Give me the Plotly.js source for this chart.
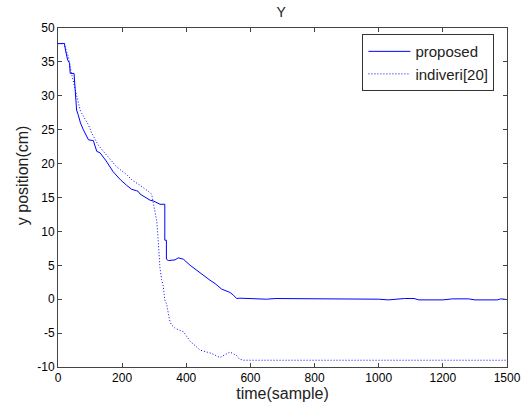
<!DOCTYPE html>
<html>
<head>
<meta charset="utf-8">
<script src="https://cdn.plot.ly/plotly-3.0.1.min.js"></script>
<style>html,body{margin:0;padding:0;background:#fff;}#chart{width:528px;height:409px;}</style>
</head>
<body>
<div id="chart"></div>
<script>
// proposed (solid)
const proposedX = [0, 20, 24, 27, 30, 36, 38, 50, 52, 56, 58, 63, 70, 79, 88, 95, 110, 115, 121, 131, 150, 172, 195, 214, 230, 245, 250, 256, 270, 287, 297, 313, 318, 333, 333, 338, 338, 344, 349, 365, 375, 391, 412, 427, 443, 474, 490, 510, 536, 547, 557, 567, 590, 620, 650, 680, 700, 720, 740, 760, 780, 800, 820, 840, 860, 880, 900, 920, 940, 960, 980, 1000, 1030, 1050, 1080, 1110, 1125, 1150, 1200, 1230, 1280, 1300, 1370, 1380, 1400];
const proposedY = [37.7, 37.7, 36.6, 35.8, 35.3, 34.8, 33.3, 33.3, 32.2, 30.1, 27.9, 27.2, 26.0, 25.0, 24.2, 23.5, 23.4, 22.6, 21.8, 21.6, 20.4, 18.8, 17.6, 16.8, 16.2, 16.0, 15.9, 15.5, 15.1, 14.6, 14.5, 14.1, 14.0, 14.0, 8.7, 8.7, 5.9, 5.7, 5.7, 5.8, 6.1, 5.9, 5.0, 4.4, 3.9, 2.8, 2.3, 1.5, 1.0, 0.6, 0.1, 0.15, 0.1, 0.1, 0.0, 0.1, 0.1, 0.0, 0.1, 0.05, 0.1, 0.0, 0.1, 0.0, 0.1, 0.0, 0.1, 0.0, 0.1, 0.1, 0.0, 0.0, -0.1, 0.0, 0.1, 0.1, -0.1, -0.1, -0.1, 0.05, 0.05, -0.1, -0.1, 0.05, -0.05];

// indiveri[20] (dotted)
const indiveriX = [0, 20, 22, 32, 43, 58, 69, 74, 95, 105, 126, 147, 183, 214, 230, 256, 266, 282, 292, 297, 302, 308, 313, 318, 323, 328, 333, 339, 344, 349, 354, 365, 391, 412, 443, 479, 505, 520, 536, 557, 565, 578, 600, 1400];
const indiveriY = [37.7, 37.7, 37.2, 35.8, 33.1, 29.9, 27.9, 27.4, 25.7, 24.5, 22.7, 21.5, 19.5, 18.4, 17.6, 16.8, 16.5, 15.9, 15.5, 14.1, 12.7, 11.5, 8.3, 4.6, 2.9, 2.0, -0.1, -0.8, -2.1, -3.3, -3.8, -4.3, -4.8, -6.2, -7.5, -8.0, -8.6, -8.2, -7.8, -8.3, -8.8, -9.0, -9.0, -9.0];

const xTickVals = [0, 200, 400, 600, 800, 1000, 1200, 1400];
const xTickText = ['0', '200', '400', '600', '800', '1000', '1200', '1500'];
const yTickVals = [-10, -5, 0, 5, 10, 15, 20, 25, 30, 35, 40];
const yTickText = ['-10', '-5', '0', '5', '10', '15', '20', '25', '30', '35', '50'];

const fam = 'Liberation Sans, Arial, sans-serif';
const font = {family: fam, size: 12, color: '#000'};
const titleFont = {family: fam, size: 16, color: '#222'};
const axisCommon = {
  showgrid: false, zeroline: false, showline: true, linecolor: '#444', linewidth: 1,
  mirror: 'ticks', ticks: 'inside', ticklen: 4, tickcolor: '#444', tickwidth: 1,
  tickmode: 'array', tickfont: font
};

const traces = [
  {x: proposedX, y: proposedY, type: 'scatter', mode: 'lines', name: 'proposed',
   line: {color: '#0000ff', width: 1}},
  {x: indiveriX, y: indiveriY, type: 'scatter', mode: 'lines', name: 'indiveri[20]',
   line: {color: '#0000ff', width: 1, dash: '1px,2px'}}
];

const layout = {
  width: 528, height: 409,
  margin: {l: 58, r: 21, t: 28, b: 42},
  paper_bgcolor: '#fff', plot_bgcolor: '#fff',
  font: font,
  showlegend: true,
  title: {text: 'Y', font: {family: fam, size: 14, color: '#222'}, xref: 'paper', x: 0.497, xanchor: 'center', y: 0.97, yanchor: 'middle'},
  xaxis: Object.assign({}, axisCommon, {range: [0, 1400], tickvals: xTickVals, ticktext: xTickText,
    title: {text: 'time(sample)', font: titleFont, standoff: 3}}),
  yaxis: Object.assign({}, axisCommon, {range: [-10, 40], tickvals: yTickVals, ticktext: yTickText}),
  annotations: [
    {text: 'y position(cm)', xref: 'paper', yref: 'y', x: 0, y: 18.3, xshift: -36, showarrow: false,
     textangle: -90, font: titleFont, xanchor: 'center', yanchor: 'middle'}
  ],
  legend: {x: 0.678, y: 0.982, xanchor: 'left', yanchor: 'top', bgcolor: '#fff',
    bordercolor: '#333', borderwidth: 1, font: {family: fam, size: 15, color: '#222'},
    itemwidth: 42, tracegroupgap: 0}
};

Plotly.newPlot('chart', traces, layout, {displayModeBar: false, staticPlot: true});
</script>
</body>
</html>
